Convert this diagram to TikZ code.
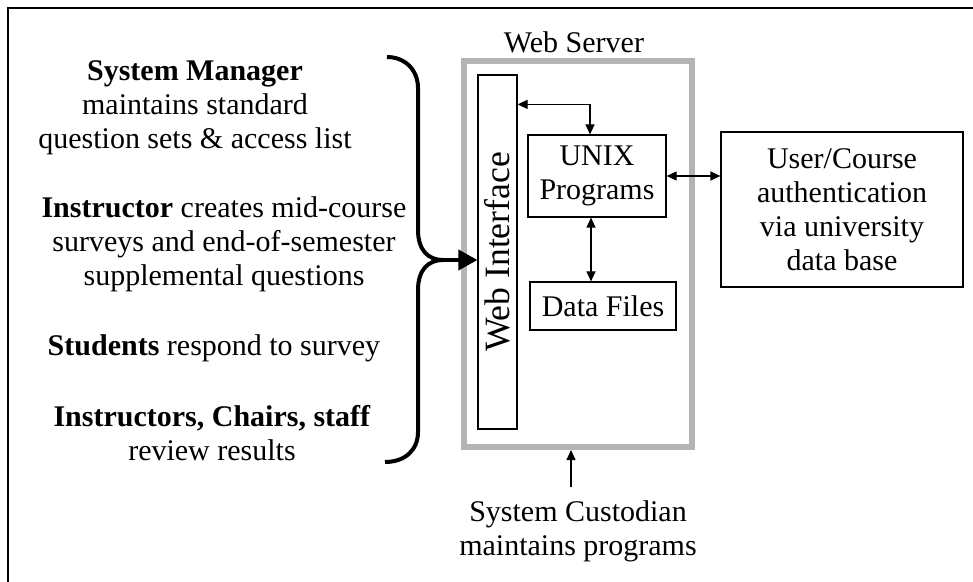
\documentclass[tikz,border=0pt]{standalone}
\usepackage{fontspec}
\setmainfont{Liberation Serif}
\usepackage{tikz}
\usetikzlibrary{arrows.meta,positioning,calc}
\definecolor{servergray}{RGB}{180,180,180}

\begin{document}
\begin{tikzpicture}[x=0.5pt, y=-0.5pt,
    font=\fontsize{15}{17}\selectfont,
    box/.style={draw, line width=0.6pt, inner sep=0pt, align=center},
    role/.style={align=center, inner sep=0pt},
    tipsmall/.style={-{Triangle[length=5pt,width=4.5pt]}},
    arr/.style={line width=0.6pt,
      {Triangle[length=5pt,width=4.5pt]}-{Triangle[length=5pt,width=4.5pt]}}]
  \useasboundingbox (0,0) rectangle (973,582);
  % outer frame, cut off at right and bottom
  \draw[line width=1pt] (8,582) -- (8,8) -- (973,8);
  % who uses the system
  \node[role] (mgr) at (195,107.5)
    {\textbf{System Manager}\\maintains standard\\question sets \& access list};
  \node[role] (instr) at (224,244)
    {\textbf{Instructor} creates mid-course\\surveys and end-of-semester\\supplemental questions};
  \node[role] (stud) at (214,348) {\textbf{Students} respond to survey};
  \node[role] (chairs) at (212,433)
    {\textbf{Instructors, Chairs, staff}\\review results};
  % web server
  \node[draw=servergray, line width=3pt, minimum width=114.25pt,
        minimum height=193pt] (server) at (577.75,254) {};
  \node[anchor=base] (servertitle) at (574,53) {Web Server};
  \node[box, minimum width=19.5pt, minimum height=177pt] (wi) at (497.5,252) {};
  \node[rotate=90, font=\fontsize{17.8}{20}\selectfont] (wilabel)
    at (wi.center) {Web Interface};
  \node[box, minimum width=69pt, minimum height=41pt] (unix) at (597,176)
    {UNIX\\Programs};
  \node[box, minimum width=73pt, minimum height=24pt] (data) at (603,306)
    {Data Files};
  \node[box, minimum width=121pt, minimum height=77.5pt] (auth) at (842,209.5)
    {User/Course\\authentication\\via university\\data base};
  \node[role] (cust) at (578,531) {System Custodian\\maintains programs};
  % brace
  \coordinate (tip) at (443,260);
  \draw[line width=2pt] (387,57) .. controls (405,57) and (418,70) .. (418,88)
    -- (418,230) .. controls (418,250) and (428,260) .. (tip)
    .. controls (428,260) and (418,270) .. (418,290)
    -- (418,432) .. controls (418,450) and (405,462) .. (385,462);
  \draw[line width=2pt, -{Triangle[length=9.5pt,width=10pt]}]
    (tip) -- (tip -| wi.west);
  % connectors
  \draw[arr] ([yshift=-15pt]wi.north east) -| ([xshift=-3.5pt]unix.north);
  \draw[arr] ([xshift=-3pt]unix.south) -- ([xshift=-3pt]unix.south |- data.north);
  \draw[arr] (unix.east) -- (unix.east -| auth.west);
  \draw[line width=0.6pt, tipsmall] ([xshift=-3.5pt,yshift=6.5pt]cust.north)
    -- ([xshift=-3.5pt]cust.north |- server.south);
\end{tikzpicture}
\end{document}
